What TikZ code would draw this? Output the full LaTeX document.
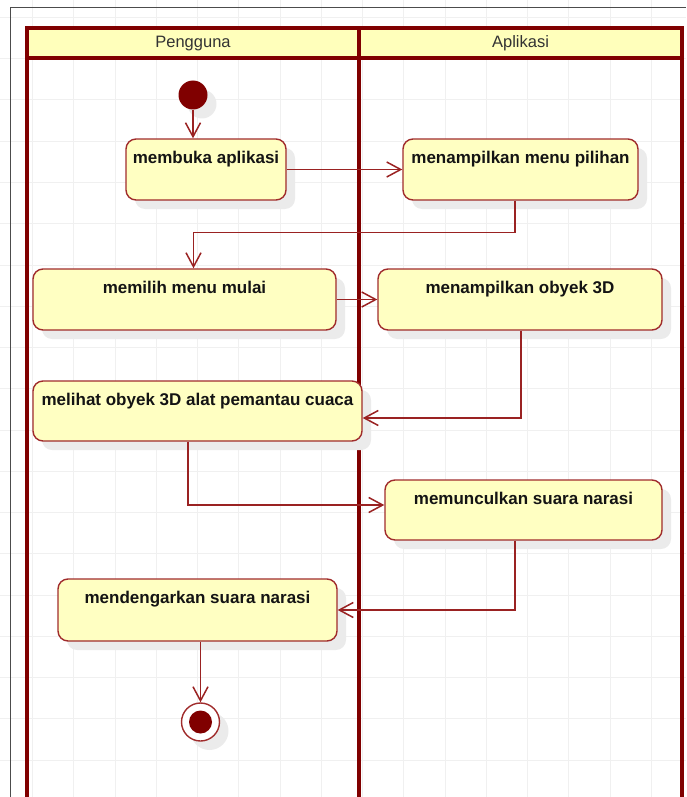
\documentclass[tikz,border=0pt]{standalone}
\usepackage{fontspec}
\setmainfont{Liberation Sans}
\usetikzlibrary{arrows.meta,calc,shadows}

\definecolor{lanered}{HTML}{800000}
\definecolor{boxred}{HTML}{A02C2C}
\definecolor{flowred}{HTML}{9A2222}
\definecolor{boxfill}{HTML}{FFFFC2}
\definecolor{headfill}{HTML}{FFFFBB}
\definecolor{gridgray}{HTML}{F0F0F0}
\definecolor{shadowgray}{HTML}{EBEBEB}
\definecolor{inktext}{HTML}{141414}

\tikzset{
  gridline/.style={draw=gridgray, line width=1pt},
  lane/.style={draw=lanered, line width=3.2pt},
  softshadow/.style={general shadow={fill=shadowgray, shadow xshift=9pt, shadow yshift=-9pt}},
  act/.style={draw=boxred, line width=1.4pt, fill=boxfill, rounded corners=10pt,
    softshadow, inner sep=0pt},
  acttext/.style={anchor=base, font=\bfseries\fontsize{17}{20}\selectfont, text=inktext, inner sep=0pt},
  headtext/.style={anchor=base, font=\fontsize{16.5}{19}\selectfont, text=black!80, inner sep=0pt},
  flow/.style={draw=flowred, line width=1.5pt,
    -{Straight Barb[length=14pt,width=15pt,line width=1.5pt]}},
  startdot/.style={circle, fill=lanered, minimum size=29pt, inner sep=0pt, softshadow},
}

\begin{document}
\begin{tikzpicture}[x=1pt, y=-1pt]
  \useasboundingbox (0,0) rectangle (686,797);

  % background grid
  \foreach \i in {0,...,16} {
    \draw[gridline] (32.5+\i*41.25,0) -- (32.5+\i*41.25,797);
  }
  \foreach \j in {0,...,19} {
    \draw[gridline] (0,17.5+\j*41.25) -- (686,17.5+\j*41.25);
  }

  % diagram frame
  \draw[black!70, line width=1pt] (10,797) -- (10,8) -- (686,8);

  % swimlanes
  \draw[lane, fill=headfill] (27,28) rectangle (682,58);
  \draw[lane] (27,58) -- (27,800);
  \draw[lane] (682,58) -- (682,800);
  \draw[lane] (359,28) -- (359,800);
  \node[headtext] (lane1) at (193,48) {Pengguna};
  \node[headtext] (lane2) at (520.5,48) {Aplikasi};

  % initial node
  \node[startdot] (start) at (193,95) {};

  % actions
  \node[act, minimum width=160pt, minimum height=61pt] (b1) at (206,169.5) {};
  \node[act, minimum width=235pt, minimum height=61pt] (b2) at (520.5,169.5) {};
  \node[act, minimum width=303pt, minimum height=61pt] (b3) at (184.5,299.5) {};
  \node[act, minimum width=284pt, minimum height=61pt] (b4) at (520,299.5) {};
  \node[act, minimum width=329pt, minimum height=60pt] (b5) at (197.5,411) {};
  \node[act, minimum width=277pt, minimum height=60pt] (b6) at (523.5,510) {};
  \node[act, minimum width=279pt, minimum height=62pt] (b7) at (197.5,610) {};

  \node[acttext] (t1) at ([yshift=-25pt]b1.north) {membuka aplikasi};
  \node[acttext] (t2) at ([yshift=-25pt]b2.north) {menampilkan menu pilihan};
  \node[acttext] (t3) at ([yshift=-25pt]b3.north) {memilih menu mulai};
  \node[acttext] (t4) at ([yshift=-25pt]b4.north) {menampilkan obyek 3D};
  \node[acttext] (t5) at ([yshift=-25pt]b5.north) {melihat obyek 3D alat pemantau cuaca};
  \node[acttext] (t6) at ([yshift=-25pt]b6.north) {memunculkan suara narasi};
  \node[acttext] (t7) at ([yshift=-25pt]b7.north) {mendengarkan suara narasi};

  % final node
  \node[circle, draw=boxred, line width=1.4pt, fill=white, minimum size=38pt, inner sep=0pt,
        softshadow] (end) at (200.5,722) {};
  \node[circle, fill=lanered, minimum size=23pt, inner sep=0pt] (endcore) at (end.center) {};

  % control flows
  \draw[flow] (start.south) -- (start.south |- b1.north);
  \draw[flow] (b1.east) -- (b2.west);
  \draw[flow] ([xshift=-5.5pt]b2.south) -- ++(0,32) -| ([xshift=9pt]b3.north);
  \draw[flow] (b3.east) -- (b4.west);
  \draw[flow] ([xshift=1pt]b4.south) |- ([yshift=-7pt]b5.east);
  \draw[flow] ([xshift=-9.5pt]b5.south) |- ([yshift=5pt]b6.west);
  \draw[flow] ([xshift=-8.5pt]b6.south) |- (b7.east);
  \draw[flow] (b7.south -| end.north) -- (end.north);
\end{tikzpicture}
\end{document}
